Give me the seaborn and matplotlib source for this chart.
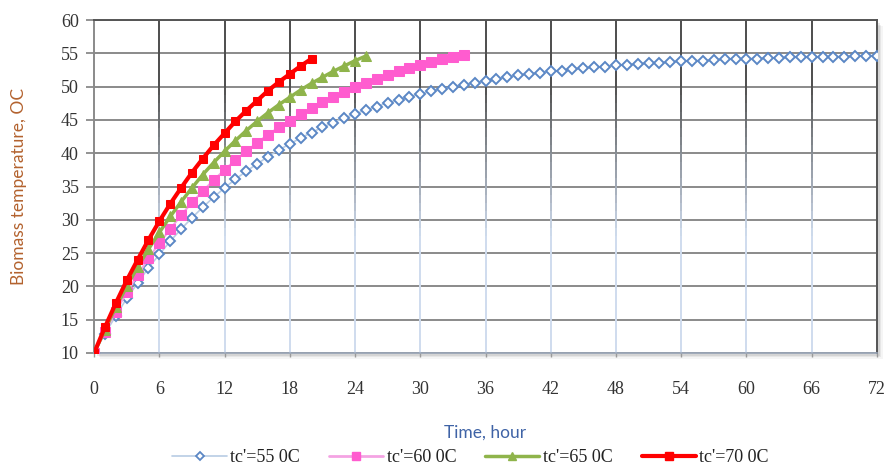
import matplotlib
matplotlib.use("Agg")
import matplotlib.pyplot as plt
from matplotlib.patches import Rectangle
from matplotlib.lines import Line2D
import numpy as np
import pandas as pd
import seaborn as sns

# ---------------- data ----------------
hours_55 = list(range(0, 73))
temp_55 = [10.0, 12.9, 15.6, 18.2, 20.5, 22.8, 24.8, 26.8, 28.6, 30.3,
           31.9, 33.4, 34.8, 36.1, 37.3, 38.4, 39.5, 40.5, 41.4, 42.3,
           43.1, 43.9, 44.6, 45.3, 45.9, 46.5, 47.0, 47.6, 48.0, 48.5,
           48.9, 49.3, 49.7, 50.0, 50.3, 50.6, 50.9, 51.2, 51.4, 51.7,
           51.9, 52.1, 52.3, 52.4, 52.6, 52.8, 52.9, 53.0, 53.2, 53.3,
           53.4, 53.5, 53.6, 53.7, 53.8, 53.9, 53.9, 54.0, 54.1, 54.1,
           54.2, 54.2, 54.3, 54.3, 54.4, 54.4, 54.4, 54.5, 54.5, 54.5,
           54.6, 54.6, 54.6]
hours_60 = list(range(0, 35))
temp_60 = [10.0, 13.2, 16.2, 19.1, 21.7, 24.2, 26.5, 28.6, 30.7, 32.6,
           34.3, 36.0, 37.5, 39.0, 40.3, 41.6, 42.8, 43.9, 44.9, 45.9,
           46.8, 47.7, 48.5, 49.2, 49.9, 50.6, 51.2, 51.7, 52.3, 52.8,
           53.2, 53.7, 54.1, 54.5, 54.8]
hours_65 = list(range(0, 26))
temp_65 = [10.0, 13.5, 16.9, 20.0, 22.9, 25.6, 28.1, 30.5, 32.7, 34.8,
           36.8, 38.6, 40.3, 41.9, 43.4, 44.8, 46.1, 47.3, 48.4, 49.5,
           50.5, 51.4, 52.3, 53.1, 53.9, 54.6]
hours_70 = list(range(0, 21))
temp_70 = [10.0, 13.9, 17.5, 20.9, 24.0, 27.0, 29.8, 32.4, 34.8, 37.1,
           39.2, 41.2, 43.0, 44.8, 46.4, 47.9, 49.4, 50.7, 51.9, 53.1,
           54.2]
series_labels = ["tc'=55 0C", "tc'=60 0C", "tc'=65 0C", "tc'=70 0C"]
x_ticks = list(range(0, 73, 6))
y_ticks = list(range(10, 61, 5))
x_label = "Time, hour"
y_label = "Biomass temperature, OC"

# ---------------- style ----------------
sns.set_style("white")
plt.rcParams['font.family'] = ['Liberation Serif', 'DejaVu Serif']

fig = plt.figure(figsize=(8.88, 4.66), dpi=100)
L, B, W, H = 0.106, 0.2425, 0.8815, 0.7145
ax = fig.add_axes([L, B, W, H])

# drop shadow of plot area
for i, a in enumerate([0.10, 0.08, 0.06, 0.04]):
    d = (i + 1) * 1.5
    fig.patches.append(Rectangle((L + d / 888, B - d / 466), W, H,
                                 transform=fig.transFigure, facecolor='black',
                                 alpha=a, edgecolor='none', zorder=-2))

ax.set_xlim(x_ticks[0], x_ticks[-1])
ax.set_ylim(y_ticks[0], y_ticks[-1])

# horizontal gridlines
for y in y_ticks:
    ax.axhline(y, color='#8a8a8a', lw=1.4, zorder=0.5)

# vertical gridlines with a dark-to-light gradient
top_c = np.array(matplotlib.colors.to_rgb('#4d4d4d'))
bot_c = np.array(matplotlib.colors.to_rgb('#cfdcee'))
N = 40
for x in x_ticks[1:]:
    for k in range(N):
        f0, f1 = k / N, (k + 1) / N
        fm = (f0 + f1) / 2
        t = np.clip((fm - 0.35) / 0.45, 0, 1)
        c = bot_c * (1 - t) + top_c * t
        ax.axvline(x, ymin=f0, ymax=f1, color=c, lw=1.4, zorder=0.6,
                   solid_capstyle='butt')

# series
sns.lineplot(x=hours_55, y=temp_55, ax=ax, color='#b8cce4', lw=1.2,
             marker='D', markersize=5, markerfacecolor='white',
             markeredgecolor='#5b87c5', markeredgewidth=1.4, zorder=3)
sns.lineplot(x=hours_60, y=temp_60, ax=ax, color='#f4a3e3', lw=1.5,
             marker='s', markersize=6.5, markerfacecolor='#ff5ccf',
             markeredgecolor='#ff5ccf', zorder=4)
sns.lineplot(x=hours_65, y=temp_65, ax=ax, color='#8fb44b', lw=2.5,
             marker='^', markersize=6.5, markerfacecolor='#8fb44b',
             markeredgecolor='#8fb44b', zorder=5)
sns.lineplot(x=hours_70, y=temp_70, ax=ax, color='#ff0000', lw=3,
             marker='s', markersize=6, markerfacecolor='#ff0000',
             markeredgecolor='#ff0000', zorder=6)

# spines
for s in ['top', 'right']:
    ax.spines[s].set_color('#555555')
    ax.spines[s].set_linewidth(1.4)
ax.spines['left'].set_color('#8a8a8a')
ax.spines['left'].set_linewidth(1.4)
ax.spines['bottom'].set_color('#9aa6b8')
ax.spines['bottom'].set_linewidth(1.2)

ax.set_xticks(x_ticks)
ax.set_yticks(y_ticks)
ax.set_xticklabels([str(v) for v in x_ticks])
ax.set_yticklabels([str(v) for v in y_ticks])
ax.tick_params(axis='y', direction='out', length=6, width=1.3,
               color='#8a8a8a', labelsize=13, labelcolor='#333333', pad=5, left=True)
ax.tick_params(axis='x', direction='out', length=3, width=1,
               color='#9a9a9a', labelsize=13, labelcolor='#333333', pad=17, bottom=True)

ax.set_xlabel(x_label, family=['Lato', 'DejaVu Sans'], fontsize=12.5,
              color='#3f63a6', labelpad=19)
ax.set_ylabel(y_label, family=['Lato', 'DejaVu Sans'], fontsize=12.5,
              color='#b3622e', labelpad=24)

# legend
handles = [
    Line2D([], [], color='#b8cce4', lw=1.2, marker='D', markersize=4.5,
           markerfacecolor='white', markeredgecolor='#5b87c5', markeredgewidth=1.3),
    Line2D([], [], color='#f4a3e3', lw=2, marker='s', markersize=6,
           markerfacecolor='#ff5ccf', markeredgecolor='#ff5ccf'),
    Line2D([], [], color='#8fb44b', lw=2.5, marker='^', markersize=6,
           markerfacecolor='#8fb44b', markeredgecolor='#8fb44b'),
    Line2D([], [], color='#ff0000', lw=3, marker='s', markersize=5.5,
           markerfacecolor='#ff0000', markeredgecolor='#ff0000'),
]
fig.legend(handles, series_labels, loc='lower center', ncol=4,
           bbox_to_anchor=(0.53, -0.035), frameon=False, fontsize=13,
           handlelength=3, handletextpad=0.2, columnspacing=1.6,
           labelcolor='#222222')

fig.savefig("out.png", dpi=100)
